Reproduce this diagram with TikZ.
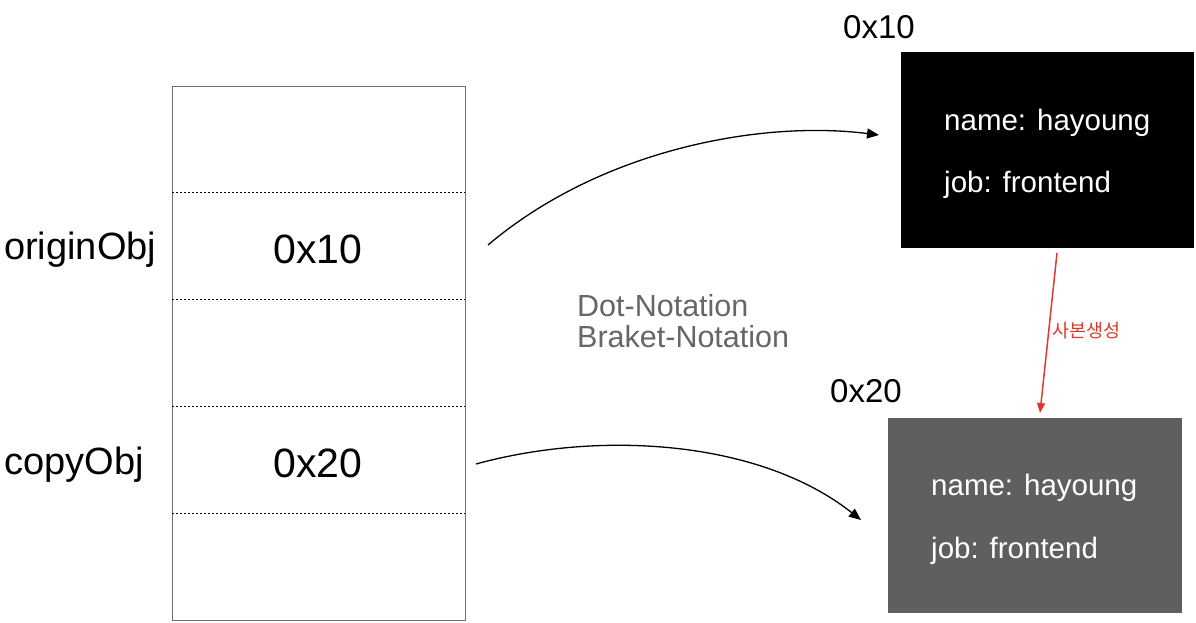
\documentclass[tikz,border=0pt]{standalone}
\usepackage{fontspec}
\setmainfont{Liberation Sans}
\newfontfamily\krfont{Noto Sans CJK KR}
\usetikzlibrary{arrows.meta}
\definecolor{boxgray}{HTML}{5F5F5F}
\definecolor{txtgray}{HTML}{666666}
\definecolor{redline}{HTML}{DC3A2C}
\definecolor{bordergray}{HTML}{707070}
\tikzset{
  mem/.style={draw=bordergray, line width=0.8pt},
  divider/.style={line width=0.9pt, dash pattern=on 2pt off 2pt},
  lbl/.style={inner sep=0pt, font=\fontsize{38}{40}\selectfont},
  addr/.style={inner sep=0pt, font=\fontsize{41}{44}\selectfont},
  toplbl/.style={inner sep=0pt, font=\fontsize{33}{36}\selectfont},
  objtxt/.style={inner sep=0pt, anchor=west, text=white, font=\fontsize{29.5}{32}\selectfont},
  ptr/.style={line width=1.3pt, -{Triangle[length=12pt,width=10pt]}},
}
\begin{document}
\begin{tikzpicture}[x=1pt,y=-1pt]
\useasboundingbox (0,0) rectangle (1196,623);
% memory box
\draw[mem] (172,86) rectangle (465,620);
\foreach \yy in {192,299,406,513} \draw[divider] (172,\yy) -- (465,\yy);
\node[addr] (a1) at (318,249) {0x10};
\node[addr] (a2) at (318,463) {0x20};
\node[lbl, anchor=west] (on) at (4,250) {originObj};
\node[lbl, anchor=west] (cn) at (4,465) {copyObj};
% objects
\node[fill=black, minimum width=293pt, minimum height=196pt, inner sep=0pt, anchor=north west] (o1) at (901,52) {};
\node[fill=boxgray, minimum width=294pt, minimum height=195pt, inner sep=0pt, anchor=north west] (o2) at (888,418) {};
\node[objtxt] (t1) at (944,123) {name: hayoung};
\node[objtxt] (t2) at (944,185) {job: frontend};
\node[objtxt] (t3) at (931,488) {name: hayoung};
\node[objtxt] (t4) at (931,551) {job: frontend};
\node[toplbl] (l1) at (879,27) {0x10};
\node[toplbl] (l2) at (866,391) {0x20};
% notation
\node[inner sep=0pt, anchor=west, text=txtgray, font=\fontsize{30.5}{33}\selectfont, align=left] (nt) at (577,321) {Dot-Notation\\[-2pt]Braket-Notation};
% arrows
\coordinate (s1) at (488,245);
\coordinate (e1) at (879,135);
\coordinate (s2) at (476,464);
\coordinate (e2) at (861,520);
\draw[ptr] (s1) .. controls (600,150) and (760,120) .. (e1);
\draw[ptr] (s2) .. controls (600,430) and (760,440) .. (e2);
\coordinate (r1) at (1057,253);
\coordinate (r2) at (1040,413);
\draw[redline, line width=1.5pt, -{Triangle[length=10pt,width=8pt]}] (r1) -- (r2);
\node[inner sep=0pt, anchor=west, text=redline, font=\krfont\fontsize{18.5}{20}\selectfont] (cp) at (1052,331) {사본생성};
\end{tikzpicture}
\end{document}
